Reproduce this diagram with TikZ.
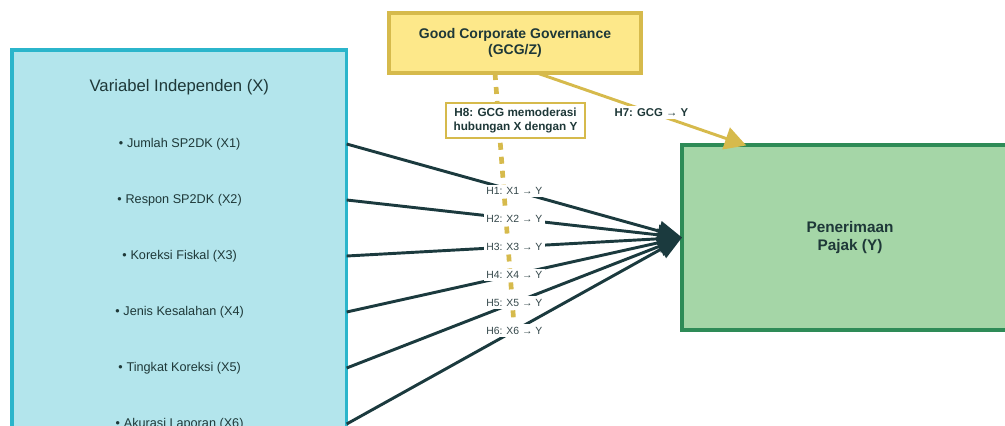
\documentclass[tikz,border=0pt]{standalone}
\usepackage{fontspec}
\setmainfont{Liberation Sans}
\usetikzlibrary{positioning, arrows.meta, calc}

\definecolor{indepfill}{HTML}{B3E5EC}
\definecolor{indepline}{HTML}{2BB5CB}
\definecolor{gcgfill}{HTML}{FDE88A}
\definecolor{gcgline}{HTML}{D6BA4C}
\definecolor{depfill}{HTML}{A5D6A7}
\definecolor{depline}{HTML}{2E8B57}
\definecolor{pathdark}{HTML}{1B3A3E}
\definecolor{textdark}{HTML}{1E3838}
\definecolor{labelgray}{HTML}{34474A}

\begin{document}
\begin{tikzpicture}[x=0.75pt, y=-0.75pt, >={Triangle[length=18pt,width=15pt]}]
    % Styles
    \tikzstyle{varbox} = [rectangle, draw=indepline, fill=indepfill, line width=2.6pt,
    minimum width=251pt, minimum height=308pt, anchor=north west, outer sep=0pt]
    \tikzstyle{gcgbox} = [rectangle, draw=gcgline, fill=gcgfill, line width=2.6pt,
    minimum width=189pt, minimum height=45pt, align=center, text=textdark,
    font=\bfseries\fontsize{10.5}{12.5}\selectfont, outer sep=0pt]
    \tikzstyle{depbox} = [rectangle, draw=depline, fill=depfill, line width=2.6pt,
    minimum width=252pt, minimum height=138.75pt, anchor=north west, align=center,
    text=textdark, font=\bfseries\fontsize{11.5}{13.5}\selectfont, outer sep=0pt]
    \tikzstyle{notebox} = [rectangle, draw=gcgline, fill=white, line width=1.5pt,
    minimum width=104pt, minimum height=26pt, align=center, text=textdark,
    font=\bfseries\fontsize{8.8}{10.5}\selectfont, outer sep=0pt]
    \tikzstyle{titletext} = [text=textdark, font=\fontsize{12.5}{14}\selectfont]
    \tikzstyle{itemtext} = [text=textdark, font=\fontsize{9.5}{11}\selectfont]
    \tikzstyle{pathlabel} = [fill=white, text=labelgray, inner sep=2pt,
    font=\fontsize{7.8}{9}\selectfont]
    \tikzstyle{causal} = [draw=pathdark, line width=2.2pt]
    \tikzstyle{direct} = [draw=gcgline, line width=2.2pt,
    -{Triangle[length=16pt,width=17pt]}, shorten >=-1pt]
    \tikzstyle{modline} = [draw=gcgline, line width=3.5pt, dash pattern=on 5.25pt off 5.25pt]

    \useasboundingbox (0,0) rectangle (1005,425);
    \clip (0,0) rectangle (1005,425);

    % Nodes
    \node [varbox] (indep) at (12,50) {};
    \node [titletext] (indeptitle) at ($(indep.north)+(0,37)$) {Variabel Independen (X)};
    \foreach \txt [count=\i] in {Jumlah SP2DK (X1), Respon SP2DK (X2), Koreksi Fiskal (X3),
        Jenis Kesalahan (X4), Tingkat Koreksi (X5), Akurasi Laporan (X6)}
        \node [itemtext] (x\i) at (179.5, 88+56*\i)
            {\raisebox{1.6pt}{\fontsize{6}{6}\selectfont ●}\ \txt};

    \node [gcgbox] (gcg) at (515,43) {Good Corporate Governance\\(GCG/Z)};
    \node [depbox] (dep) at (682,145) {Penerimaan\\Pajak (Y)};

    % Moderation
    \coordinate (modend) at (514,325);
    \draw [modline] ($(gcg.south)+(-20,0)$) -- (modend);
    \node [notebox] (h8) at (515.5,120.5) {H8: GCG memoderasi\\hubungan X dengan Y};

    % Arrows
    \draw [direct] ($(gcg.south)+(22,0)$) -- node [pathlabel, pos=0.55, font=\bfseries\fontsize{8.5}{10}\selectfont, text=textdark]
        {H7: GCG → Y} ($(dep.north west)+(63,0)$);
    \foreach \i in {1,...,6}
        \draw [->, causal] (indep.east |- x\i) -- node [pathlabel] {H\i: X\i\ → Y} (dep.west);
\end{tikzpicture}
\end{document}
